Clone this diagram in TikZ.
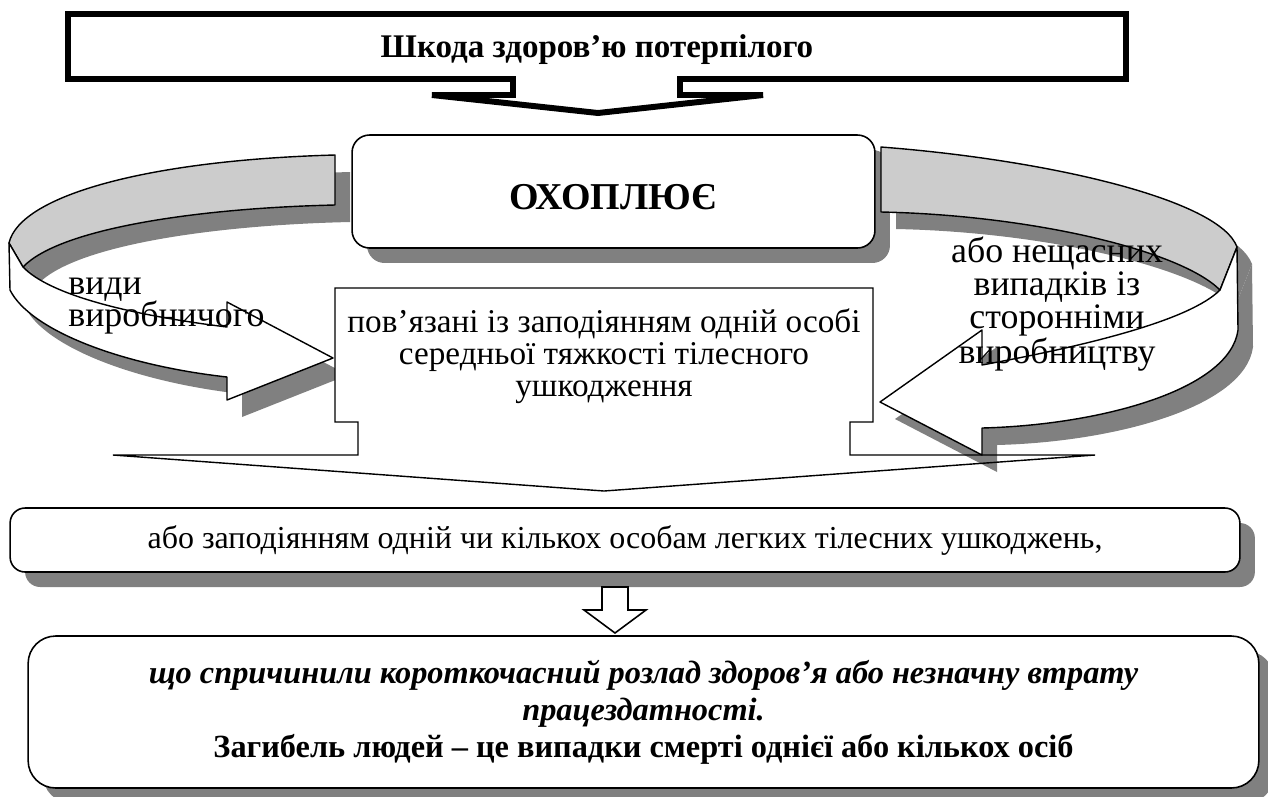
\documentclass[tikz,border=0pt]{standalone}
\usepackage{fontspec}
\setmainfont{Liberation Serif}
\usetikzlibrary{shadows}
\definecolor{bandgray}{RGB}{204,204,204}
\definecolor{shadowgray}{RGB}{128,128,128}
\tikzset{
  ribbon/.style={draw=black, line width=0.8pt, line join=round},
  band/.style={ribbon, fill=bandgray},
  face/.style={ribbon, fill=white},
  shade/.style={fill=shadowgray, shift={(15,17)}},
  roundbox/.style={draw, line width=0.9pt, fill=white, inner sep=0pt,
    drop shadow={shadow xshift=0.3cm, shadow yshift=-0.3cm, fill=shadowgray, opacity=1}},
  callout/.style={draw, line width=0.8pt},
  topcallout/.style={draw, fill=white, line width=3.4pt},
  hollow/.style={draw, fill=white, line width=0.9pt},
  bodytext/.style={font=\fontsize{18.9}{18.2}\selectfont, inner sep=0pt},
  sidetext/.style={font=\fontsize{20.4}{18.6}\selectfont, inner sep=0pt}
}
% ribbon outlines, in pixels of the picture
\newcommand{\bandL}{(335,155) .. controls (150,160) and (20,195) .. (9,243) -- (23,267)
  .. controls (60,228) and (200,208) .. (335,205) -- cycle}
\newcommand{\faceL}{(9,243) -- (10,290) .. controls (30,330) and (120,365) .. (227,377)
  -- (227,400) -- (333,358) -- (227,302) -- (227,327)
  .. controls (130,315) and (50,295) .. (23,267) -- cycle}
\newcommand{\bandR}{(881,147) .. controls (1050,160) and (1220,200) .. (1237,247) -- (1220,290)
  .. controls (1180,250) and (1030,215) .. (881,212) -- cycle}
\newcommand{\faceR}{(1237,247) -- (1238,330) .. controls (1230,390) and (1100,425) .. (982,428)
  -- (982,455) -- (880,402) -- (982,330) -- (982,365)
  .. controls (1090,345) and (1190,320) .. (1220,290) -- cycle}

\begin{document}
\begin{tikzpicture}[x=0.02cm,y=-0.02cm]
\useasboundingbox (0,0) rectangle (1268,796);

\node[roundbox, rounded corners=0.35cm, minimum width=10.46cm, minimum height=2.26cm] (covers) at (613.5,191.5) {};
\node[inner sep=0pt] (coverstext) at (613,197) {\fontsize{21.6}{26}\selectfont\bfseries ОХОПЛЮЄ};

% left ribbon
\fill[shade] \bandL;
\fill[shade] \faceL;
\draw[band] \bandL;
\draw[face] \faceL;

% right ribbon
\fill[shade] \bandR;
\fill[shade] \faceR;
\draw[band] \bandR;
\draw[face] \faceR;

% middle callout
\fill[white] (335,288) rectangle (873,455);
\draw[callout] (335,288) -- (873,288) -- (873,422) -- (850,422) -- (850,455) -- (1095,455)
  -- (604,491) -- (113,455) -- (358,455) -- (358,422) -- (335,422) -- cycle;
\node[bodytext, align=center] (harm) at (604,356) {пов’язані із заподіянням одній особі\\середньої тяжкості тілесного\\ушкодження};

\node[sidetext, anchor=west, align=left] (kinds) at (68,306) {види\\виробничого};
\node[sidetext, align=center] (accidents) at (1057,304) {або нещасних\\випадків із\\сторонніми\\виробництву};

% top callout
\draw[topcallout] (68,14) -- (1126,14) -- (1126,79) -- (680,79) -- (680,95) -- (763,95)
  -- (598,113) -- (432,95) -- (513,95) -- (513,79) -- (68,79) -- cycle;
\node[anchor=base, inner sep=0pt] (damage) at (597,57) {\fontsize{18.8}{22}\selectfont\bfseries Шкода здоров’ю потерпілого};

% bottom boxes
\node[roundbox, rounded corners=0.3cm, minimum width=24.6cm, minimum height=1.28cm] (minor) at (625,540) {\fontsize{18.2}{20}\selectfont або заподіянням одній чи кількох особам легких тілесних ушкоджень,};
\draw[hollow] (602,587) -- (628,587) -- (628,610) -- (646,610) -- (615,633) -- (584,610) -- (602,610) -- cycle;
\node[roundbox, rounded corners=0.55cm, minimum width=24.62cm, minimum height=3.04cm, align=center, font=\fontsize{18.4}{21}\selectfont] (death) at (643.5,712) {{\bfseries\itshape що спричинили короткочасний розлад здоров’я або незначну втрату}\\{\bfseries\itshape працездатності.}\\{\bfseries Загибель людей – це випадки смерті однієї або кількох осіб}};
\end{tikzpicture}
\end{document}
